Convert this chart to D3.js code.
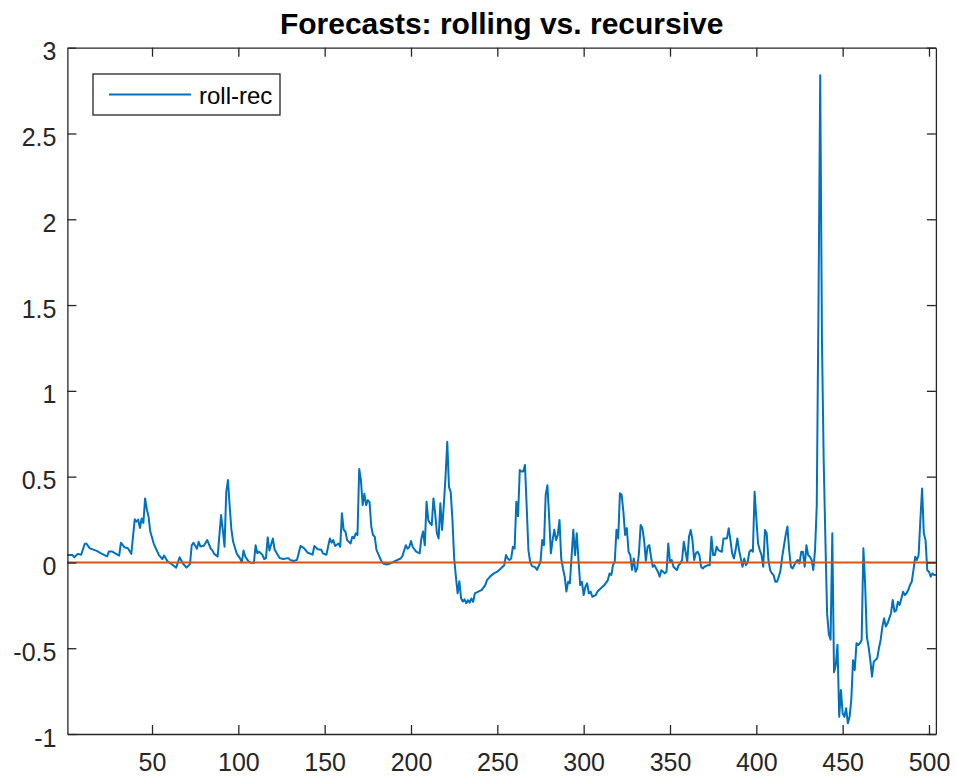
<!DOCTYPE html>
<html>
<head>
<meta charset="utf-8">
<script src="https://cdn.jsdelivr.net/npm/d3@7"></script>
<style>
  html, body { margin: 0; padding: 0; background: #fff; }
  svg { display: block; }
  text { font-family: "Liberation Sans", Arial, Helvetica, sans-serif; }
</style>
</head>
<body>
<svg id="chart" width="956" height="779"></svg>
<script>
// ---- data ----
const titleText = "Forecasts: rolling vs. recursive";
const seriesLabel = "roll-rec";
const xTicks = [50, 100, 150, 200, 250, 300, 350, 400, 450, 500];
const yTicks = [-1, -0.5, 0, 0.5, 1, 1.5, 2, 2.5, 3];
const xDomain = [1, 504];
const yDomain = [-1, 3];
const zeroLevel = 0;

const obsIndex = [
  1,4,5,7,9,11,12,14,18,21,24,25,27,31,32,34,36,38,40,41,42,43,44,45,46,47,48,49,51,54,56,57,59,61,64,66,68,70,72,73,74,76,77,78,80,82,84,
  85,86,88,90,91,92,93,94,95,96,97,99,101,102,103,104,106,107,109,110,111,112,114,115,116,117,118,120,121,123,124,126,129,130,132,134,136,138,140,143,144,146,148,149,151,153,154,155,156,158,159,160,161,162,163,165,166,167,168,169,170,171,
  172,173,174,175,176,177,178,179,180,181,183,184,186,188,190,192,194,195,197,198,199,200,201,203,205,206,207,208,209,210,211,212,213,214,215,216,217,218,219,220,221,222,223,224,225,226,227,228,229,230,231,232,233,234,235,236,237,239,241,243,244,246,248,250,252,254,255,
  256,257,258,259,260,261,262,263,264,265,266,267,268,269,270,272,273,275,276,277,278,279,280,281,282,283,284,285,286,287,288,289,290,291,292,294,295,296,297,298,299,300,301,302,303,304,305,307,308,310,312,314,315,316,317,318,319,320,321,322,323,324,325,326,327,328,329,330,331,332,333,334,335,336,337,
  338,339,340,341,342,343,344,345,346,347,348,349,350,351,352,353,354,355,356,357,358,359,360,361,362,363,364,365,366,367,368,369,370,372,373,374,375,376,377,378,380,381,383,384,385,386,387,388,389,390,391,392,393,394,395,396,397,398,399,400,401,402,403,404,405,406,407,408,409,410,411,412,413,414,415,417,418,419,420,421,
  422,423,424,425,426,427,428,429,430,431,432,433,434,435,436,437,438,439,440,441,442,443,444,445,446,447,448,449,450,451,452,453,454,455,456,457,458,459,460,461,462,463,464,465,466,467,468,469,470,471,472,473,474,475,476,477,478,479,480,481,482,483,484,485,486,487,488,489,490,491,492,493,494,495,496,497,498,499,500,501,502,503,504
];

const rollRec = [
  0.043,0.043,0.03,0.05,0.045,0.107,0.11,0.082,0.067,0.05,0.035,0.063,0.063,0.04,0.115,0.088,0.083,0.05,0.251,0.237,0.25,0.2,0.256,0.23,0.373,0.31,0.267,0.18,0.11,0.043,0.02,0.04,0.006,-0.008,-0.03,0.03,-0.008,-0.03,-0.01,0.1,0.115,0.08,0.12,0.093,0.097,0.13,0.08,
  0.07,0.05,0.034,0.276,0.19,0.092,0.41,0.48,0.325,0.19,0.12,0.053,0.024,0.0,0.07,0.034,0.005,0.0,-0.004,0.1,0.053,0.063,0.043,0.02,0.025,0.146,0.07,0.14,0.075,0.04,0.025,0.02,0.025,0.015,0.008,0.015,0.096,0.083,0.058,0.045,0.096,0.077,0.074,0.053,0.045,0.14,0.115,0.13,0.096,0.11,0.092,0.286,0.19,0.18,0.13,0.11,0.15,0.14,0.17,0.16,0.545,0.48,
  0.334,0.4,0.334,0.363,0.35,0.208,0.16,0.15,0.073,0.05,0.004,-0.006,-0.012,-0.006,0.004,0.014,0.023,0.037,0.1,0.08,0.09,0.125,0.09,0.063,0.053,0.14,0.18,0.1,0.353,0.247,0.228,0.218,0.373,0.286,0.17,0.14,0.345,0.189,0.334,0.5,0.703,0.44,0.41,0.247,0.023,-0.083,-0.18,-0.11,-0.209,-0.228,-0.215,-0.238,-0.22,-0.235,-0.21,-0.23,-0.18,-0.17,-0.16,-0.132,-0.103,-0.08,-0.064,-0.054,-0.035,-0.016,0.043,
  0.023,0.014,0.023,0.091,0.08,0.354,0.27,0.538,0.53,0.53,0.568,0.325,0.072,0.004,-0.02,-0.029,-0.044,0.004,0.13,0.1,0.393,0.45,0.267,0.053,0.13,0.19,0.13,0.16,0.247,0.023,-0.035,-0.083,-0.17,-0.113,-0.122,0.19,0.043,0.17,0.014,-0.132,-0.113,-0.19,-0.142,-0.122,-0.18,-0.17,-0.2,-0.19,-0.17,-0.151,-0.132,-0.103,-0.064,-0.074,-0.015,0.004,0.19,0.14,0.403,0.393,0.296,0.16,0.2,0.062,0.043,-0.044,0.023,-0.054,-0.035,0.053,0.218,0.2,0.13,0.01,0.091,
  0.101,0.033,-0.025,-0.016,-0.035,-0.054,-0.083,-0.045,-0.054,-0.064,-0.054,0.11,0.004,0.014,-0.025,-0.035,-0.045,-0.016,-0.006,0.014,0.12,0.062,0.004,0.15,0.189,0.13,0.014,0.053,0.062,0.043,-0.025,-0.035,-0.025,-0.016,-0.016,0.15,0.043,0.043,0.091,0.072,0.062,0.14,0.14,0.199,0.13,0.053,0.023,0.072,0.14,0.072,0.023,-0.025,0.023,-0.016,0.004,0.062,0.072,0.062,0.412,0.257,0.11,0.072,0.043,-0.025,0.189,0.17,0.014,-0.045,-0.064,-0.074,-0.112,-0.112,-0.083,-0.045,0.033,0.16,0.209,0.072,-0.025,-0.035,
  -0.015,0.004,0.014,-0.006,0.062,0.062,-0.025,0.1,0.043,0.033,0.014,-0.044,0.072,0.33,1.5,2.84,1.3,0.6,0.13,-0.3,-0.42,-0.45,0.17,-0.64,-0.6,-0.48,-0.9,-0.744,-0.879,-0.9,-0.85,-0.937,-0.9,-0.8,-0.57,-0.627,-0.471,-0.481,-0.471,-0.452,0.082,-0.122,-0.433,-0.491,-0.568,-0.666,-0.578,-0.568,-0.559,-0.5,-0.452,-0.374,-0.326,-0.374,-0.355,-0.326,-0.296,-0.219,-0.287,-0.28,-0.229,-0.248,-0.21,-0.171,-0.19,-0.18,-0.161,-0.132,-0.113,-0.045,0.033,0.014,0.043,0.247,0.431,0.17,0.13,-0.045,-0.054,-0.083,-0.064,-0.074,-0.074
];

(function () {
  const svg = d3.select("#chart");
  const mLeft = 67.4, mRight = 935.9, mTop = 47.7, mBottom = 734;
  const axisColor = "#262626";
  const tickLen = 9;

  const x = d3.scaleLinear().domain(xDomain).range([mLeft, mRight]);
  const y = d3.scaleLinear().domain(yDomain).range([mBottom, mTop]);

  const points = obsIndex.map((d, i) => [d, rollRec[i]]);

  const plot = svg.append("g");

  plot.append("path")
    .datum(points)
    .attr("fill", "none")
    .attr("stroke", "#0072BD")
    .attr("stroke-width", 2)
    .attr("stroke-linejoin", "round")
    .attr("d", d3.line().x(d => x(d[0])).y(d => y(d[1])));

  plot.append("path")
    .datum(xDomain)
    .attr("fill", "none")
    .attr("stroke", "#D95319")
    .attr("stroke-width", 2)
    .attr("d", d3.line().x(d => x(d)).y(() => y(zeroLevel)));

  function styleAxis(g) {
    g.selectAll("path.domain").attr("stroke", axisColor).attr("stroke-width", 1.3);
    g.selectAll(".tick line").attr("stroke", axisColor).attr("stroke-width", 1.3);
    g.selectAll("text").attr("fill", axisColor).style("font-size", "25px")
      .style("font-family", '"Liberation Sans", Arial, Helvetica, sans-serif');
  }

  const gxb = svg.append("g").attr("transform", `translate(0,${mBottom})`)
    .call(d3.axisBottom(x).tickValues(xTicks).tickSizeInner(-tickLen).tickSizeOuter(0));
  styleAxis(gxb);
  gxb.selectAll("text").attr("dy", null).attr("y", 37);

  styleAxis(svg.append("g").attr("transform", `translate(0,${mTop})`)
    .call(d3.axisTop(x).tickValues(xTicks).tickSizeInner(-tickLen).tickSizeOuter(0).tickFormat("")));

  const gyl = svg.append("g").attr("transform", `translate(${mLeft},0)`)
    .call(d3.axisLeft(y).tickValues(yTicks).tickSizeInner(-tickLen).tickSizeOuter(0).tickFormat(d => String(d)));
  styleAxis(gyl);
  gyl.selectAll("text").attr("x", -11).attr("dy", null).attr("y", 12);

  styleAxis(svg.append("g").attr("transform", `translate(${mRight},0)`)
    .call(d3.axisRight(y).tickValues(yTicks).tickSizeInner(-tickLen).tickSizeOuter(0).tickFormat("")));

  svg.append("text")
    .attr("x", (mLeft + mRight) / 2)
    .attr("y", 34)
    .attr("text-anchor", "middle")
    .attr("fill", "#000")
    .style("font-size", "30px")
    .style("font-weight", "bold")
    .text(titleText);

  const leg = svg.append("g");
  leg.append("rect")
    .attr("x", 93).attr("y", 74).attr("width", 187).attr("height", 41)
    .attr("fill", "#fff").attr("stroke", axisColor).attr("stroke-width", 1.3);
  leg.append("line")
    .attr("x1", 109).attr("x2", 191).attr("y1", 94.5).attr("y2", 94.5)
    .attr("stroke", "#0072BD").attr("stroke-width", 2);
  leg.append("text")
    .attr("x", 199).attr("y", 103.5)
    .attr("fill", "#000")
    .style("font-size", "24px")
    .text(seriesLabel);
})();
</script>
</body>
</html>
